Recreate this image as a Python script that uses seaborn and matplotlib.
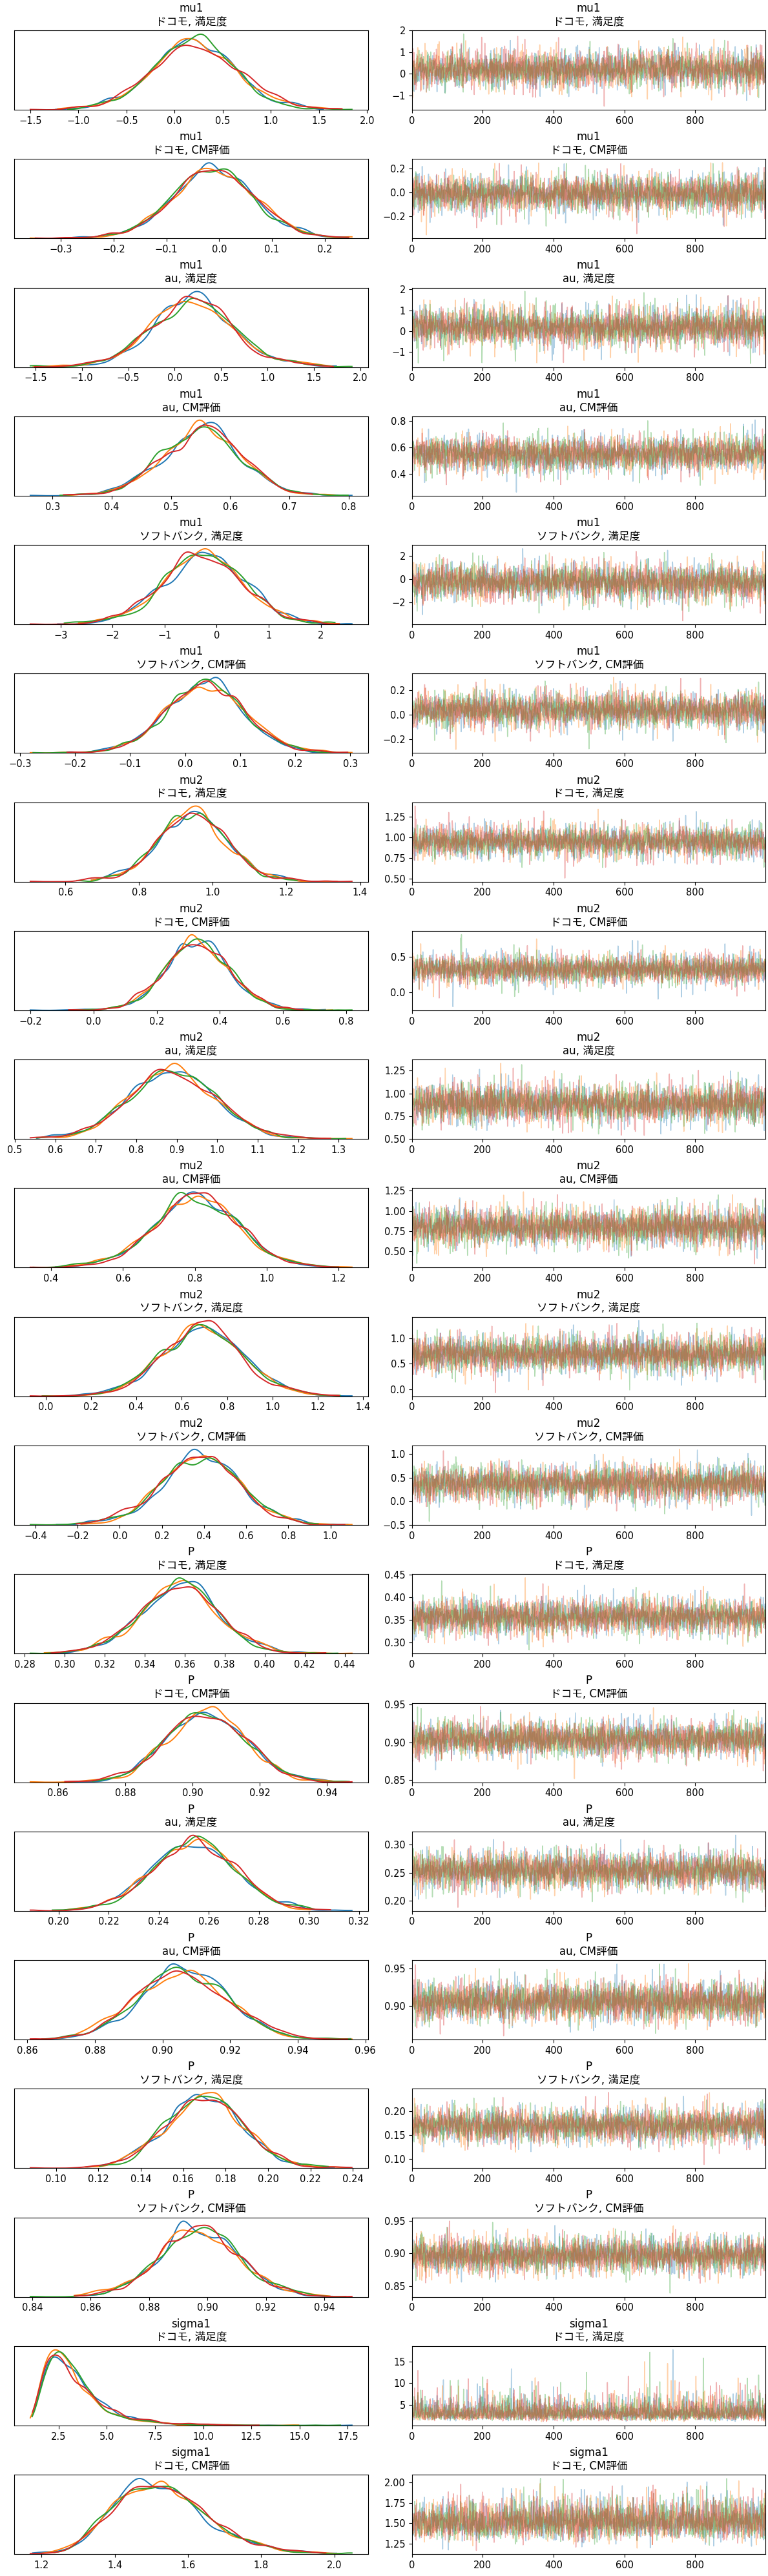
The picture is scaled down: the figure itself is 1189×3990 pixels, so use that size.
import numpy as np
import pandas as pd
import matplotlib
matplotlib.use("Agg")
import matplotlib.pyplot as plt
import seaborn as sns

# ---------------- data ----------------
var_names = ["mu1"] * 6 + ["mu2"] * 6 + ["P"] * 6 + ["sigma1"] * 2
coord_labels = ["ドコモ, 満足度", "ドコモ, CM評価", "au, 満足度", "au, CM評価",
                "ソフトバンク, 満足度", "ソフトバンク, CM評価"] * 3 + \
               ["ドコモ, 満足度", "ドコモ, CM評価"]
# per panel: distribution kind, centre, spread, shift (shift only for skewed sigma1)
dist_kind = ["t"] * 18 + ["shifted_lognormal", "shifted_lognormal"]
centers = [0.22, -0.01, 0.20, 0.55, -0.25, 0.035,
           0.945, 0.33, 0.89, 0.80, 0.69, 0.38,
           0.357, 0.904, 0.254, 0.906, 0.170, 0.897,
           0.785, -0.33]
spreads = [0.45, 0.080, 0.45, 0.068, 0.80, 0.073,
           0.095, 0.106, 0.11, 0.12, 0.18, 0.19,
           0.020, 0.0122, 0.017, 0.0135, 0.0185, 0.0140,
           0.589, 0.175]
shifts = [0.0] * 18 + [0.75, 0.80]
tail_df = [20, 25, 12, 30, 25, 30,
           30, 30, 30, 30, 30, 30,
           30, 30, 30, 30, 30, 30,
           0, 0]
chains = [0, 1, 2, 3]
n_draws = 1000
chain_colors = ["#1f77b4", "#ff7f0e", "#2ca02c", "#d62728"]

# ---------------- samples ----------------
rng = np.random.default_rng(7)
draw_idx = np.arange(n_draws)
panels = []
for k in range(len(var_names)):
    rows = []
    for c in chains:
        if dist_kind[k] == "t":
            df = tail_df[k]
            scl = spreads[k] * np.sqrt((df - 2) / df)
            v = centers[k] + scl * rng.standard_t(df, n_draws)
        else:
            v = shifts[k] + np.exp(centers[k] + spreads[k] * rng.standard_normal(n_draws))
        rows.append(pd.DataFrame({"chain": c, "draw": draw_idx, "value": v}))
    panels.append(pd.concat(rows, ignore_index=True))

# ---------------- figure ----------------
plt.rcParams["font.family"] = ["DejaVu Sans", "Noto Sans CJK JP"]
plt.rcParams["axes.unicode_minus"] = True

n_rows = len(var_names)
fig, axes = plt.subplots(n_rows, 2, figsize=(11.89, 39.90), dpi=100)
fig.subplots_adjust(left=0.0185, right=0.997, top=0.9882, bottom=0.0085,
                    hspace=0.62, wspace=0.124)

for k in range(n_rows):
    axl, axr = axes[k, 0], axes[k, 1]
    d = panels[k]
    title = f"{var_names[k]}\n{coord_labels[k]}"
    for c in chains:
        sub = d[d["chain"] == c]
        sns.kdeplot(x=sub["value"], ax=axl, color=chain_colors[c], cut=0,
                    bw_adjust=0.7, linewidth=1.4)
    for c in chains:
        sub = d[d["chain"] == c]
        sns.lineplot(x=sub["draw"], y=sub["value"], ax=axr,
                     color=chain_colors[c], alpha=0.35, linewidth=1.1,
                     estimator=None, errorbar=None)
    axl.set_yticks([])
    axl.set_xlabel("")
    axl.set_ylabel("")
    axr.set_xlabel("")
    axr.set_ylabel("")
    axr.set_xlim(0, n_draws - 1)
    for ax in (axl, axr):
        ax.set_title(title, fontsize=12)
        ax.tick_params(labelsize=10.5)

fig.savefig("out.png", dpi=100)
